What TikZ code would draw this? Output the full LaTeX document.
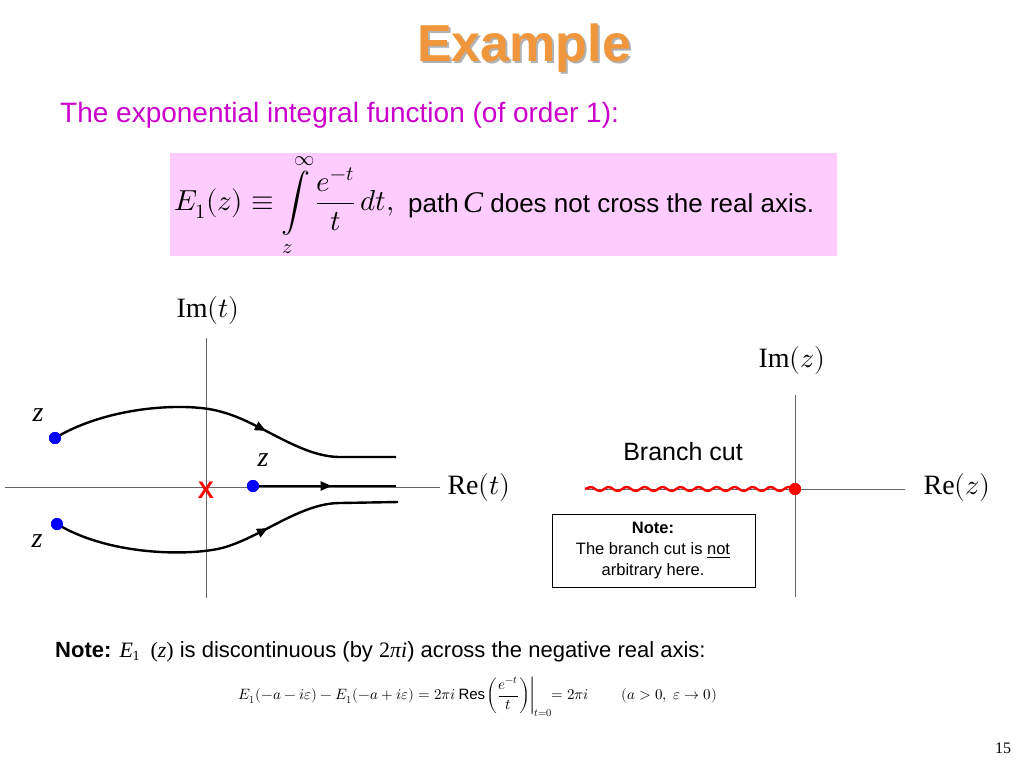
\documentclass[tikz,border=0pt]{standalone}
\usepackage{fontspec}
\setmainfont{Liberation Sans}
\newfontfamily\serif{Liberation Serif}
\usepackage{amsmath}
\usepackage{unicode-math}
\setmathfont{Latin Modern Math}
\usetikzlibrary{decorations.markings,decorations.pathmorphing,arrows.meta}
\definecolor{magen}{RGB}{204,0,204}
\definecolor{pinkbg}{RGB}{255,204,255}
\definecolor{orng}{RGB}{240,150,60}
\begin{document}
\begin{tikzpicture}[x=1pt,y=-1pt,
  axis/.style={draw=gray!80!black,line width=1pt},
  curve/.style={draw=black,line width=2.4pt},
  dot/.style={circle,fill=blue,inner sep=0pt,minimum size=12pt},
  midarrow/.style={postaction={decorate},decoration={markings,mark=at position #1 with {\arrow{Triangle[length=11pt,width=9pt]}}}},
  lbl/.style={font=\serif\fontsize{28}{28}\selectfont,inner sep=0pt}]
\useasboundingbox (0,0) rectangle (1024,768);
\fill[white] (0,0) rectangle (1024,768);
% title
\node[text=gray!60,font=\bfseries\fontsize{52}{52}\selectfont] at (526,50) {Example};
\node (title) [text=orng,font=\bfseries\fontsize{52}{52}\selectfont] at (524,48) {Example};
\node (sub) [anchor=west,text=magen,font=\fontsize{28}{28}\selectfont,inner sep=0pt] at (60,115) {The exponential integral function (of order 1):};
% formula box
\node (box) [fill=pinkbg,minimum width=667pt,minimum height=103pt,anchor=north west,inner sep=0pt] at (170,153) {};
\node (formula) [anchor=west,inner sep=0pt] at (174,205) {\fontsize{29}{29}\selectfont$E_1\!\left(z\right)\equiv\displaystyle\int\limits_z^{\infty}\frac{e^{-t}}{t}\,dt,$};
\node (path) [anchor=west,inner sep=0pt,font=\fontsize{26}{26}\selectfont] at (408,205) {path\,{\serif\itshape\fontsize{30}{30}\selectfont C} does not cross the real axis.};
% left axes
\coordinate (lt) at (206,338); \coordinate (lb) at (206,598);
\coordinate (ll) at (5,487); \coordinate (lr) at (440,487);
\draw[axis] (lt) -- (lb);
\draw[axis] (ll) -- (lr);
\node (imt) [lbl] at (208,310) {Im$\left(t\right)$};
\node (ret) [lbl] at (479,487) {Re$\left(t\right)$};
\node (d1) [dot] at (55,438) {};
\node (d2) [dot] at (253,486) {};
\node (d3) [dot] at (57,524) {};
\coordinate (e1) at (396,457);
\coordinate (e2) at (396,486);
\coordinate (e3) at (398,502);
\draw[curve,midarrow=0.62] (d1.center) .. controls (110,405) and (190,402) .. (222,412) .. controls (260,422) and (300,457) .. (340,457) -- (e1);
\draw[curve,midarrow=0.55] (d2.center) -- (e2);
\draw[curve,midarrow=0.62] (d3.center) .. controls (110,556) and (190,556) .. (222,548) .. controls (260,538) and (300,503) .. (340,503) -- (e3);
\node[dot] at (55,438) {};\node[dot] at (253,486) {};\node[dot] at (57,524) {};
\node (z1) [lbl,font=\serif\itshape\fontsize{28}{28}\selectfont] at (38,415) {z};
\node (z2) [lbl,font=\serif\itshape\fontsize{28}{28}\selectfont] at (263,460) {z};
\node (z3) [lbl,font=\serif\itshape\fontsize{28}{28}\selectfont] at (37,541) {z};
\node (x) [text=red,font=\bfseries\fontsize{24}{24}\selectfont,inner sep=0pt] at (206,490) {X};
% right axes
\coordinate (rt) at (795,395); \coordinate (rb) at (795,597);
\coordinate (rl) at (585,489); \coordinate (rr) at (905,489);
\draw[axis] (rt) -- (rb);
\draw[axis] (rl) -- (rr);
\node (imz) [lbl] at (792,360) {Im$\left(z\right)$};
\node (rez) [lbl] at (957,487) {Re$\left(z\right)$};
\node (origin) [circle,fill=red,inner sep=0pt,minimum size=12pt] at (795,489) {};
\draw[red,line width=2.4pt,decorate,decoration={snake,amplitude=2pt,segment length=18pt}] (rl) -- (origin.center);
\node[circle,fill=red,inner sep=0pt,minimum size=12pt] at (795,489) {};
\node (bc) [font=\fontsize{25}{25}\selectfont] at (683,452) {Branch cut};
\node (note) [draw=black,line width=1.2pt,fill=white,minimum width=203pt,minimum height=73pt,anchor=north west,inner sep=0pt] at (552,514) {};
\node [align=center,font=\fontsize{16.5}{21}\selectfont] at (653,551) {\textbf{Note:}\\The branch cut is \underline{not}\\arbitrary here.};
% bottom note
\node (bn) [anchor=west,inner sep=0pt,font=\fontsize{22}{22}\selectfont] at (55,652) {\textbf{Note:} {\serif\fontsize{22}{22}\selectfont\itshape E\kern-0.5pt\raisebox{-3pt}{\upshape\fontsize{14}{14}\selectfont 1}\ \ \upshape(\itshape z\upshape)} is discontinuous (by {\serif\fontsize{22}{22}\selectfont 2\itshape πi}) across the negative real axis:};
\node (eq) [inner sep=0pt] at (478,697) {\fontsize{15}{15}\selectfont$E_1\!\left(-a-i\varepsilon\right)-E_1\!\left(-a+i\varepsilon\right)=2\pi i\,\mathrm{Res}\left.\!\left(\dfrac{e^{-t}}{t}\right)\right|_{t=0}\!\!=2\pi i\qquad\left(a>0,\ \varepsilon\to0\right)$};
\node (pg) [font=\serif\fontsize{16}{16}\selectfont] at (1003,748) {15};
\end{tikzpicture}
\end{document}
